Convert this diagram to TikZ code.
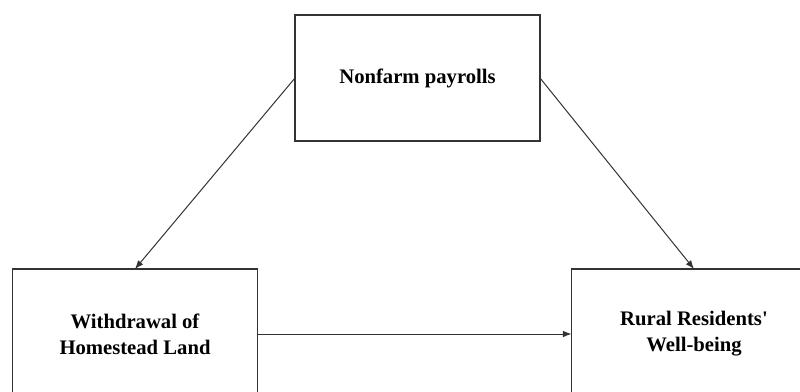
\documentclass[tikz,border=0pt]{standalone}
\usepackage{fontspec}
\newfontfamily\tnr{Liberation Serif}
\usetikzlibrary{arrows.meta}
\begin{document}
\begin{tikzpicture}[x=0.75pt,y=-0.75pt,
  box/.style={draw=black!80, line width=0.8pt, minimum width=183.75pt, minimum height=94.5pt,
    inner sep=0pt, outer sep=0pt, align=center,
    font=\tnr\bfseries\fontsize{15.5}{19.5}\selectfont},
  conn/.style={draw=black!80, line width=0.75pt, -{Latex[length=6.5pt,width=5pt]}}]
\useasboundingbox (0,0) rectangle (800,392);
\node[box] (np) at (417.5,78) {Nonfarm payrolls};
\node[box, minimum height=97.5pt] (wh) at (135,334) {Withdrawal of\\Homestead Land};
\node[box, minimum height=97.5pt] (rw) at (694,334) {Rural Residents'\\Well-being};
\draw[conn] (np.west) -- (wh.north);
\draw[conn] (np.east) -- (rw.north);
\draw[conn] (wh.east) -- (rw.west);
\end{tikzpicture}
\end{document}
